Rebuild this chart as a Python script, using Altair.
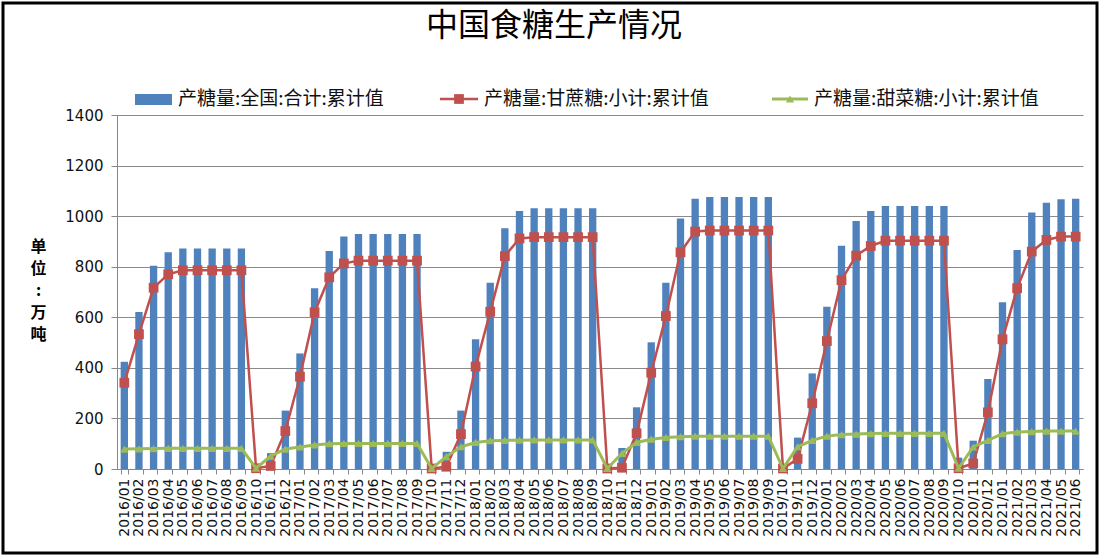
import altair as alt
import pandas as pd

months = [f"{y}/{m:02d}" for y in range(2016, 2022) for m in range(1, 13)][:66]

total = [424, 621, 804, 857, 872, 872, 872, 872, 872, 5, 63, 231,
         457, 715, 862, 919, 929, 929, 929, 929, 929, 3, 68, 231,
         513, 737, 952, 1020, 1031, 1031, 1031, 1031, 1031, 3, 83, 244,
         501, 737, 991, 1069, 1076, 1076, 1076, 1076, 1076, 3, 124, 378,
         642, 883, 981, 1020, 1040, 1040, 1040, 1040, 1040, 45, 112, 356,
         659, 866, 1014, 1053, 1067, 1069]

cane = [341, 533, 717, 770, 786, 786, 786, 786, 786, 3, 12, 150,
        365, 620, 758, 813, 824, 824, 824, 824, 824, 2, 9, 138,
        405, 622, 842, 912, 917, 917, 917, 917, 917, 2, 5, 141,
        381, 605, 857, 939, 943, 943, 943, 943, 943, 2, 40, 260,
        506, 747, 844, 882, 903, 903, 903, 903, 903, 3, 22, 224,
        513, 715, 860, 906, 919, 919]

beet = [79, 80, 81, 82, 82, 82, 82, 82, 82, 3, 51, 79,
        87, 95, 100, 101, 101, 101, 101, 101, 101, 2, 49, 88,
        105, 112, 113, 114, 115, 115, 115, 115, 115, 2, 62, 105,
        118, 125, 128, 130, 130, 130, 130, 130, 130, 2, 88, 113,
        130, 136, 138, 140, 141, 141, 141, 141, 141, 3, 87, 113,
        140, 146, 148, 150, 150, 150]

series_names = ["产糖量:全国:合计:累计值", "产糖量:甘蔗糖:小计:累计值", "产糖量:甜菜糖:小计:累计值"]
title_text = "中国食糖生产情况"
y_title = ["单", "位", ":", "万", "吨"]
y_ticks = [0, 200, 400, 600, 800, 1000, 1200, 1400]

BLUE, RED, GREEN = "#4F81BD", "#C0504D", "#9BBB59"
CJK = "Noto Sans CJK SC"

df = pd.DataFrame({"month": months, "total": total, "cane": cane, "beet": beet})

xenc = alt.X("month:N", sort=months,
             scale=alt.Scale(paddingInner=0.5, paddingOuter=0.25),
             axis=alt.Axis(title=None, labelAngle=270, labelFont="DejaVu Sans",
                           labelFontSize=14, labelColor="#111", labelPadding=4,
                           tickColor="#888", domainColor="#888", tickBand="extent",
                           tickSize=5, grid=False))

yaxis = alt.Axis(values=y_ticks, format="d", title=y_title, titleAngle=0, titleX=-79, titleY=123,
                 titleBaseline="top", titleAlign="center", titleLineHeight=22,
                 titleFont=CJK, titleFontSize=16, titleFontWeight="bold", titleColor="#000",
                 labelFont="DejaVu Sans", labelFontSize=15, labelColor="#111",
                 labelPadding=8, tickSize=6, tickColor="#888", domainColor="#888",
                 gridColor="#8a8a8a", gridWidth=1)

base = alt.Chart(df)

bars = base.mark_bar(color=BLUE).encode(
    x=xenc,
    y=alt.Y("total:Q", scale=alt.Scale(domain=[0, 1400]), axis=yaxis),
)
cane_line = base.mark_line(color=RED, strokeWidth=2.5).encode(x=xenc, y="cane:Q")
cane_pts = base.mark_point(shape="square", filled=True, color=RED, size=95, opacity=1).encode(x=xenc, y="cane:Q")
beet_line = base.mark_line(color=GREEN, strokeWidth=3).encode(x=xenc, y="beet:Q")
beet_pts = base.mark_point(shape="triangle-up", filled=True, color=GREEN, size=70, opacity=1).encode(x=xenc, y="beet:Q")

one = alt.Chart(pd.DataFrame({"k": [0]}))

# legend (manual)
leg_rect = one.mark_rect(color=BLUE).encode(x=alt.value(18), x2=alt.value(55), y=alt.value(-21), y2=alt.value(-10))
leg_red_line = one.mark_rule(color=RED, strokeWidth=2.5).encode(x=alt.value(323), x2=alt.value(361), y=alt.value(-16))
leg_red_pt = one.mark_point(shape="square", filled=True, color=RED, size=95, opacity=1).encode(x=alt.value(342), y=alt.value(-16))
leg_green_line = one.mark_rule(color=GREEN, strokeWidth=3).encode(x=alt.value(655), x2=alt.value(691), y=alt.value(-16))
leg_green_pt = one.mark_point(shape="triangle-up", filled=True, color=GREEN, size=70, opacity=1).encode(x=alt.value(673), y=alt.value(-16))
leg_txt = [
    one.mark_text(align="left", baseline="middle", font=CJK, fontSize=19, color="#111").encode(
        x=alt.value(xp), y=alt.value(-16), text=alt.value(t))
    for xp, t in zip([61, 367, 697], series_names)
]

title = one.mark_text(align="center", baseline="middle", font=CJK, fontSize=32, color="#000").encode(
    x=alt.value(437), y=alt.value(-89), text=alt.value(title_text))

border = one.mark_rect(fillOpacity=0, stroke="#000", strokeWidth=3).encode(
    x=alt.value(-114), x2=alt.value(980), y=alt.value(-112), y2=alt.value(438))

chart = alt.layer(
    bars, cane_line, cane_pts, beet_line, beet_pts,
    leg_rect, leg_red_line, leg_red_pt, leg_green_line, leg_green_pt, *leg_txt,
    title, border,
).properties(
    width=966, height=354,
    autosize=alt.AutoSizeParams(type="none"),
    padding={"left": 117, "top": 115, "right": 24, "bottom": 88},
    background="white",
).configure_view(stroke=None)

chart.save("out.html", embed_options={"renderer": "svg", "actions": False})
